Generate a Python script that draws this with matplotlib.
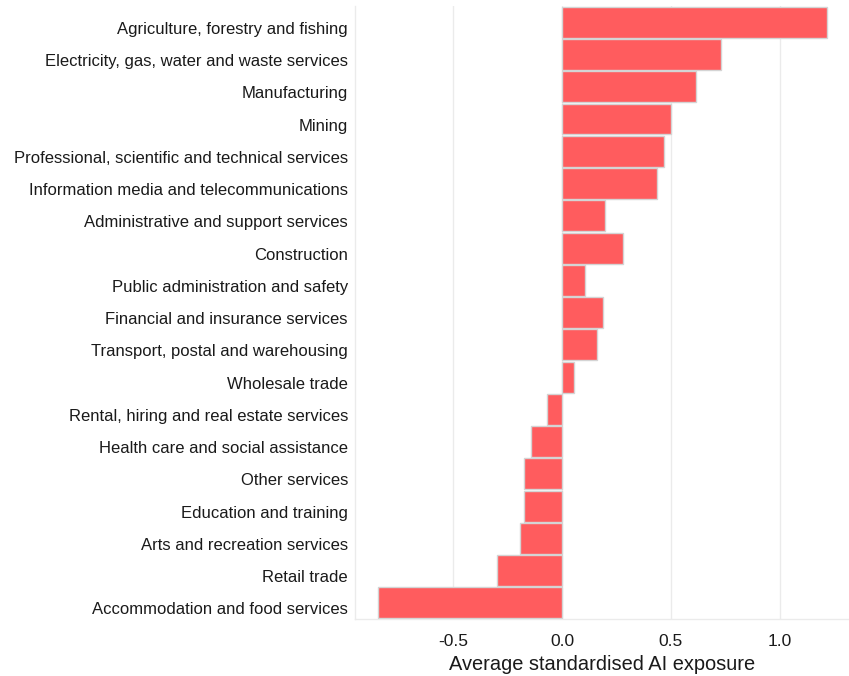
import matplotlib
matplotlib.use("Agg")
import matplotlib.pyplot as plt
from matplotlib.transforms import ScaledTranslation

# ── data ───────────────────────────────────────────────────────────────────────

industries = [
    "Agriculture, forestry and fishing",
    "Electricity, gas, water and waste services",
    "Manufacturing",
    "Mining",
    "Professional, scientific and technical services",
    "Information media and telecommunications",
    "Administrative and support services",
    "Construction",
    "Public administration and safety",
    "Financial and insurance services",
    "Transport, postal and warehousing",
    "Wholesale trade",
    "Rental, hiring and real estate services",
    "Health care and social assistance",
    "Other services",
    "Education and training",
    "Arts and recreation services",
    "Retail trade",
    "Accommodation and food services",
]

exposure = [
    1.214, 0.729, 0.613, 0.500, 0.469, 0.437, 0.199, 0.281, 0.107, 0.190,
    0.159, 0.057, -0.069, -0.142, -0.173, -0.173, -0.193, -0.300, -0.845,
]

x_ticks = [-0.5, 0.0, 0.5, 1.0]
x_ticklabels = ["-0.5", "0.0", "0.5", "1.0"]

# ── plot ───────────────────────────────────────────────────────────────────────

plt.rcParams["font.family"] = ["Liberation Sans", "DejaVu Sans"]

fig = plt.figure(figsize=(8.49, 6.76), dpi=100)
ax = fig.add_axes([0.418, 0.0843, 0.582, 0.9067])

y = list(range(len(industries)))
ax.barh(y, exposure, height=0.96, color="#ff5c5e",
        edgecolor="#d4d4d4", linewidth=1.0, zorder=3)

ax.set_ylim(len(industries) - 0.5, -0.5)
ax.set_xlim(-0.95, 1.317)

ax.set_yticks(y)
ax.set_yticklabels(industries, fontsize=12, color="#1a1a1a")
ax.set_xticks(x_ticks)
ax.set_xticklabels(x_ticklabels, fontsize=12.5, color="#1a1a1a")
ax.tick_params(axis="y", length=0, pad=5)
ax.tick_params(axis="x", length=0, pad=11)

# labels sit a little below the bar centres in the original
shift = ScaledTranslation(0, -4 / 72, fig.dpi_scale_trans)
for lab in ax.get_yticklabels():
    lab.set_transform(lab.get_transform() + shift)

ax.xaxis.grid(True, color="#ebebeb", linewidth=1.0, zorder=0)
ax.set_axisbelow(True)
for side in ["top", "right"]:
    ax.spines[side].set_visible(False)
for side in ["left", "bottom"]:
    ax.spines[side].set_color("#ebebeb")
    ax.spines[side].set_linewidth(1.0)

ax.set_xlabel("Average standardised AI exposure", fontsize=14.4,
              color="#1a1a1a", labelpad=4)

fig.savefig("out.png", dpi=100)
